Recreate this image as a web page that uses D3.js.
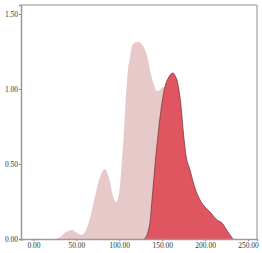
<!DOCTYPE html>
<html>
<head>
<meta charset="utf-8">
<script src="https://cdn.jsdelivr.net/npm/d3@7"></script>
<style>
  body { margin: 0; background: #fff; }
</style>
</head>
<body>
<svg id="chart"></svg>
<script>
// density series A (light)
const xA = [25.1, 30.9, 37.9, 44.9, 50.7, 56.5, 61.2, 65.9, 71.7, 77.5, 83.3, 88.0, 92.7, 96.2, 98.5,
  100.8, 103.1, 105.5, 107.8, 110.1, 112.5, 114.8, 118.3, 123.0, 126.5, 130.0, 133.5, 135.8, 139.3,
  143.9, 147.4, 150.9, 154.4, 159.1, 164.9, 170.7, 176.6];
const yA = [0, 0.013, 0.047, 0.06, 0.04, 0.027, 0.06, 0.14, 0.287, 0.413, 0.467, 0.407, 0.287, 0.247, 0.273,
  0.36, 0.527, 0.727, 0.96, 1.127, 1.213, 1.287, 1.31, 1.313, 1.293, 1.26, 1.193, 1.127, 1.047,
  0.987, 0.993, 1.013, 0.993, 0.86, 0.527, 0.16, 0];

// density series B (dark red)
const xB = [129.0, 133.4, 135.8, 138.1, 140.4, 142.7, 145.1, 147.4, 149.8, 153.4, 156.8, 160.3, 162.6,
  164.9, 167.2, 169.6, 171.9, 174.2, 177.7, 182.4, 188.2, 194.1, 199.9, 205.7, 213.9, 219.7, 224.4,
  229.0, 232.5];
const yB = [0, 0.047, 0.113, 0.26, 0.41, 0.56, 0.69, 0.81, 0.91, 1.02, 1.07, 1.10, 1.107,
  1.09, 1.06, 0.99, 0.89, 0.74, 0.56, 0.46, 0.34, 0.26, 0.213, 0.18, 0.127, 0.107, 0.067,
  0.027, 0];

const xTicks = [0, 50, 100, 150, 200, 250];
const yTicks = [0, 0.5, 1.0, 1.5];

const W = 262, H = 253;
const margin = { top: 5, right: 5, bottom: 14, left: 21 };
const width = W - margin.left - margin.right;
const height = H - margin.top - margin.bottom;

const svg = d3.select('#chart').attr('width', W).attr('height', H)
  .append('g')
  .attr('transform', `translate(${margin.left},${margin.top})`);

const x = d3.scaleLinear().domain([-14.6, 260.5]).range([0, width]);
const y = d3.scaleLinear().domain([0, 1.56]).range([height, 0]);

const area = d3.area()
  .x((d) => x(d[0]))
  .y0(y(0))
  .y1((d) => y(d[1]))
  .curve(d3.curveMonotoneX);

const line = d3.line()
  .x((d) => x(d[0]))
  .y((d) => y(d[1]))
  .curve(d3.curveMonotoneX);

const dataA = xA.map((v, i) => [v, yA[i]]);
const dataB = xB.map((v, i) => [v, yB[i]]);

svg.append('path').datum(dataA)
  .attr('fill', '#e8c9ca')
  .attr('d', area);

svg.append('path').datum(dataB)
  .attr('fill', '#df5661')
  .attr('d', area);

svg.append('path').datum(dataB)
  .attr('fill', 'none')
  .attr('stroke', '#6b3036')
  .attr('stroke-width', 0.7)
  .attr('d', line);

// frame
svg.append('line').attr('x1', 0).attr('x2', width).attr('y1', 0).attr('y2', 0)
  .attr('stroke', '#b5b5b5').attr('stroke-width', 1.5);
svg.append('line').attr('x1', width).attr('x2', width).attr('y1', 0).attr('y2', height)
  .attr('stroke', '#b5b5b5').attr('stroke-width', 1.5);

// axes
const gx = svg.append('g')
  .attr('transform', `translate(0,${height})`)
  .call(d3.axisBottom(x).tickValues(xTicks).tickFormat(d3.format('.2f')).tickSize(2).tickPadding(2));
const gy = svg.append('g')
  .call(d3.axisLeft(y).tickValues(yTicks).tickFormat(d3.format('.2f')).tickSize(2).tickPadding(1));

[gx, gy].forEach((g) => {
  g.select('.domain').attr('stroke', '#9a9a9a').attr('stroke-width', 1.5);
  g.selectAll('.tick line').attr('stroke', '#888');
  g.selectAll('text')
    .style('font-family', '"Liberation Serif", serif')
    .style('font-size', '7.5px')
    .style('fill', '#333');
});
</script>
</body>
</html>
